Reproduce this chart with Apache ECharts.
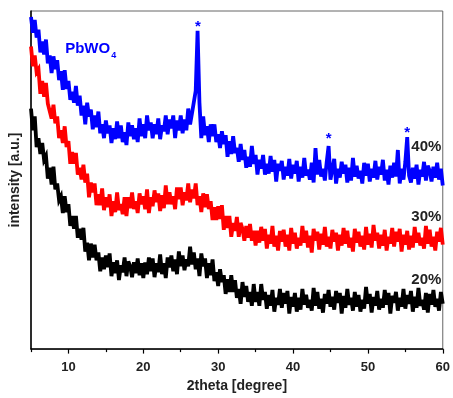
<!DOCTYPE html>
<html><head><meta charset="utf-8">
<script src="https://cdn.jsdelivr.net/npm/echarts@6/dist/echarts.min.js"></script>
<style>html,body{margin:0;padding:0;background:#fff}#c{width:453px;height:398px}</style>
</head><body><div id="c"></div>
<script>
// 2theta grid of the scan (degrees)
const angleStart = 5;
const angleStep = 0.25;

// Intensity readings (a.u.) for the three samples, one per angle step
const intensity40 = [
337,321,334,316,324,301,312,299,314,290,
298,280,297,284,293,273,282,263,283,264,
272,253,261,250,267,247,257,237,247,228,
250,236,243,223,237,225,241,219,228,214,
232,219,227,209,224,213,231,214,227,210,
220,207,230,216,227,213,224,210,234,216,
228,214,237,222,230,214,228,218,234,213,
227,221,237,218,233,224,237,214,232,222,
237,219,233,222,244,228,239,240,262,323,
250,214,236,217,226,210,228,216,228,210,
218,204,221,208,217,195,211,198,216,199,
204,190,208,192,202,184,195,185,206,188,
197,177,192,183,197,177,188,178,196,180,
192,170,188,181,191,172,185,176,193,173,
187,178,191,170,185,174,194,176,182,172,
189,169,204,177,192,175,183,171,190,206,
172,173,193,168,183,174,190,178,187,169,
184,171,194,175,186,173,181,168,189,176,
188,170,183,174,191,172,185,177,192,171,
182,167,186,174,189,175,202,168,183,172,
190,215,176,169,184,173,187,167,182,175,
190,171,186,181,170,185,174,189,172,183,
166];
const intensity30 = [
307,287,298,281,284,259,272,256,270,249,
251,234,248,229,236,214,222,209,226,205,
211,188,200,188,199,177,184,172,187,169,
178,154,169,159,168,146,157,146,163,141,
154,144,157,135,150,139,159,141,147,137,
154,135,154,143,159,142,150,138,158,147,
155,142,162,138,154,145,161,149,158,140,
156,143,166,147,159,147,155,142,164,152,
164,146,159,151,168,149,162,153,168,146,
155,139,158,144,157,142,150,131,144,131,
145,132,146,121,135,123,135,114,128,120,
134,114,128,122,110,125,113,127,110,120,
105,120,108,124,110,122,102,116,107,125,
104,115,100,120,109,121,104,116,100,123,
107,118,102,113,105,125,108,120,103,115,
98,122,110,119,101,117,106,124,104,114,
102,121,109,118,100,116,105,123,107,120,
103,113,99,122,108,119,104,115,101,124,
106,117,103,126,110,118,102,116,105,121,
100,114,107,123,104,119,109,122,99,116,
106,120,101,115,103,124,108,118,105,113,
102,125,107,121,104,114,100,119,109,123,
106];
const intensity20 = [
244,222,236,205,214,198,209,192,196,173,
184,167,185,162,168,151,155,138,155,139,
147,125,135,122,135,113,122,111,123,99,
108,90,107,93,106,90,98,79,93,81,
95,83,97,74,88,77,90,70,85,78,
93,74,89,84,73,88,77,92,75,87,
72,88,76,93,79,92,73,87,78,96,
76,87,72,93,83,95,79,91,76,99,
84,95,80,91,84,104,86,98,81,92,
74,97,84,92,72,87,75,91,69,78,
64,81,68,75,56,71,58,75,58,70,
52,61,46,68,53,64,48,58,44,66,
48,58,44,66,50,58,41,55,44,60,
38,52,45,61,42,57,46,59,36,53,
43,57,38,52,40,61,45,55,42,50,
39,62,44,58,41,51,37,56,46,60,
43,53,40,59,47,57,36,54,42,61,
45,52,39,58,43,55,38,50,41,63,
46,56,37,53,44,59,40,51,42,60,
45,57,36,54,47,58,39,52,43,61,
41,55,46,59,38,53,42,62,44,50,
40,57,37,56,45,60,43,51,39,58,
46];

const sampleNames = ['40%', '30%', '20%'];
const majorTicks = [10, 20, 30, 40, 50, 60];
const minorTicks = [5, 15, 25, 35, 45, 55];
const phaseName = 'PbWO';
const phaseSub = '4';
const peakAngles = [27.3, 44.75, 55.25];

// annotation anchors (data space)
const sampleLabelAngle = 57.8;
const sampleLabelLevels = [205, 134, 70];
const starLevels = [327, 213, 219];
const phaseAnchor = [9.5, 305];

const FONT = '"Liberation Sans", Arial, sans-serif';
function pairs(arr) { return arr.map((v, i) => [angleStart + i * angleStep, v]); }
const seriesData = [intensity40, intensity30, intensity20];
const colors = ['#0000FF', '#FF0000', '#000000'];

function anno(coord, text, label) {
  return { coord: coord, value: text, symbol: 'circle', symbolSize: 1,
    itemStyle: { color: 'rgba(0,0,0,0)' },
    label: Object.assign({ show: true, position: 'inside', formatter: text }, label) };
}

const series = seriesData.map((arr, k) => ({
  type: 'line', data: pairs(arr), showSymbol: false, symbol: 'none',
  lineStyle: { color: colors[k], width: 3.8, join: 'miter', miterLimit: 4 }, clip: true, z: 3 - k,
  markPoint: {
    silent: true, animation: false,
    data: [anno([sampleLabelAngle, sampleLabelLevels[k]], sampleNames[k],
      { fontFamily: FONT, fontWeight: 'bold', fontSize: 15, color: '#222' })]
  }
}));
// stars and phase name on the 40% series
series[0].markPoint.data.push(
  ...peakAngles.map((a, i) => anno([a, starLevels[i]], '*',
    { fontFamily: FONT, fontWeight: 'bold', fontSize: 15, color: '#0000FF' })),
  anno(phaseAnchor, '{a|' + phaseName + '}{b|' + phaseSub + '}', {
    position: 'right', distance: 0,
    rich: { a: { fontFamily: FONT, fontWeight: 'bold', fontSize: 15, color: '#0000FF' },
            b: { fontFamily: FONT, fontWeight: 'bold', fontSize: 9, color: '#0000FF', padding: [14, 0, 0, 1] } } })
);

const chart = echarts.init(document.getElementById('c'), null, { renderer: 'canvas' });
chart.setOption({
  animation: false,
  backgroundColor: '#fff',
  grid: { left: 31, right: 10, top: 11, bottom: 44, show: true, borderColor: '#666', borderWidth: 1 },
  xAxis: [{
    type: 'value', min: 5, max: 60,
    axisLine: { lineStyle: { color: '#000', width: 1.5 } },
    axisTick: { customValues: majorTicks, length: 4.5, lineStyle: { color: '#000', width: 1.2 } },
    axisLabel: { customValues: majorTicks, margin: 12, fontFamily: FONT, fontWeight: 'bold', fontSize: 13, color: '#222' },
    splitLine: { show: false },
    name: '2theta [degree]', nameLocation: 'middle', nameGap: 26,
    nameTextStyle: { fontFamily: FONT, fontWeight: 'bold', fontSize: 14, color: '#222' }
  }, {
    type: 'value', min: 5, max: 60, position: 'bottom', offset: 0,
    axisLine: { show: false },
    axisTick: { customValues: minorTicks, length: 3, lineStyle: { color: '#000', width: 1.2 } },
    axisLabel: { show: false }, splitLine: { show: false }
  }],
  yAxis: {
    type: 'value', min: 0, max: 343,
    axisLine: { show: true, lineStyle: { color: '#000', width: 1.5 } },
    axisTick: { show: false }, axisLabel: { show: false }, splitLine: { show: false },
    name: 'intensity [a.u.]', nameLocation: 'middle', nameGap: 9, nameRotate: 90,
    nameTextStyle: { fontFamily: FONT, fontWeight: 'bold', fontSize: 14, color: '#222' }
  },
  series: series
});
</script></body></html>
